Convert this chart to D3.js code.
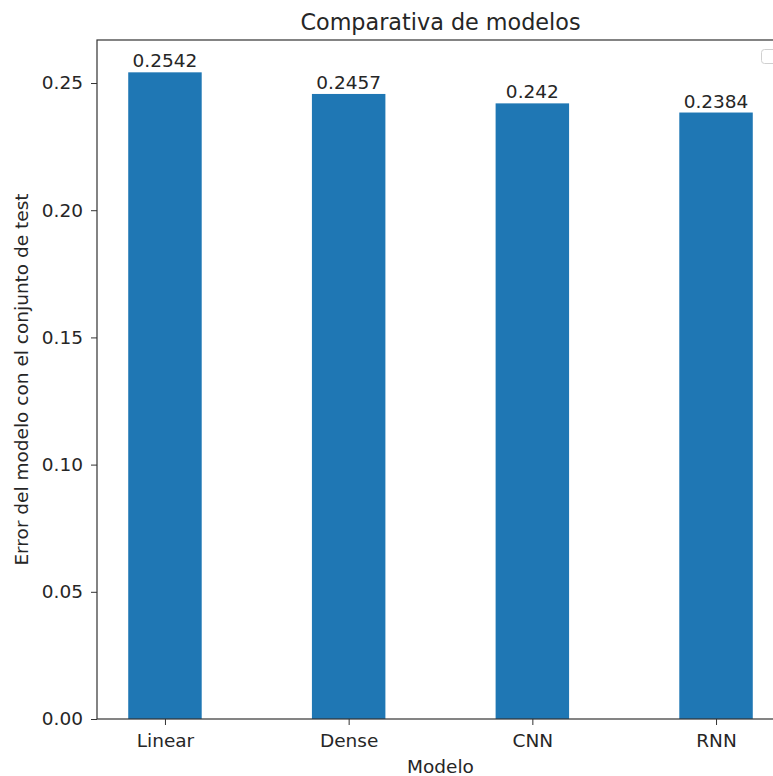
<!DOCTYPE html>
<html><head><meta charset="utf-8">
<script src="https://cdn.jsdelivr.net/npm/d3@7"></script>
<style>body{margin:0;background:#fff}svg{display:block}text{font-family:"DejaVu Sans",sans-serif;fill:#262626}</style>
</head><body>
<svg id="c" width="773" height="776"></svg>
<script>
const categories = ["Linear", "Dense", "CNN", "RNN"];
const values = [0.2542, 0.2457, 0.242, 0.2384];
const labels = ["0.2542", "0.2457", "0.242", "0.2384"];
const yTicks = [0.00, 0.05, 0.10, 0.15, 0.20, 0.25];
const title = "Comparativa de modelos";
const xTitle = "Modelo";
const yTitle = "Error del modelo con el conjunto de test";

const FS = 18.5, TFS = 22.3;
const svg = d3.select("#c");
const L = 97, R = 784, T = 40, B = 719;
const barW = 0.4;
const x = d3.scaleLinear().domain([-0.37, 3.37]).range([L, R]);
const y = d3.scaleLinear().domain([0, 0.2542 * 1.05]).range([B, T]);

svg.selectAll("rect.bar").data(values).enter().append("rect")
  .attr("class", "bar")
  .attr("x", (d, i) => x(i - barW / 2))
  .attr("width", (d, i) => x(i + barW / 2) - x(i - barW / 2))
  .attr("y", d => y(d))
  .attr("height", d => y(0) - y(d))
  .attr("fill", "#1f77b4");

svg.selectAll("text.val").data(values).enter().append("text")
  .attr("class", "val")
  .attr("x", (d, i) => x(i))
  .attr("y", d => y(d) - 5)
  .attr("text-anchor", "middle")
  .attr("font-size", FS)
  .text((d, i) => labels[i]);

const yAxis = d3.axisLeft(y).tickValues(yTicks).tickFormat(d3.format(".2f")).tickSize(6).tickPadding(8);
const gy = svg.append("g").attr("transform", `translate(${L},0)`).call(yAxis);
gy.select(".domain").remove();
gy.selectAll("text").attr("font-size", FS).attr("font-family", "DejaVu Sans").attr("fill", "#262626");
gy.selectAll("line").attr("stroke", "#333");

const xAxis = d3.axisBottom(x).tickValues(d3.range(categories.length)).tickFormat(i => categories[i]).tickSize(6).tickPadding(9);
const gx = svg.append("g").attr("transform", `translate(0,${B})`).call(xAxis);
gx.select(".domain").remove();
gx.selectAll("text").attr("font-size", FS).attr("font-family", "DejaVu Sans").attr("fill", "#262626");
gx.selectAll("line").attr("stroke", "#333");

svg.append("rect").attr("x", L).attr("y", T).attr("width", R - L).attr("height", B - T)
  .attr("fill", "none").attr("stroke", "#333").attr("stroke-width", 1.2);

// empty legend box
svg.append("rect").attr("x", 761.5).attr("y", 49.5).attr("width", 20).attr("height", 14).attr("rx", 3)
  .attr("fill", "#fff").attr("stroke", "#d0d0d0");

svg.append("text").attr("x", (L + R) / 2).attr("y", 30).attr("text-anchor", "middle").attr("font-size", TFS).text(title);
svg.append("text").attr("x", (L + R) / 2).attr("y", 773).attr("text-anchor", "middle").attr("font-size", FS).text(xTitle);
svg.append("text").attr("transform", `translate(28,${(T + B) / 2}) rotate(-90)`).attr("text-anchor", "middle").attr("font-size", FS).text(yTitle);
</script>
</body></html>
